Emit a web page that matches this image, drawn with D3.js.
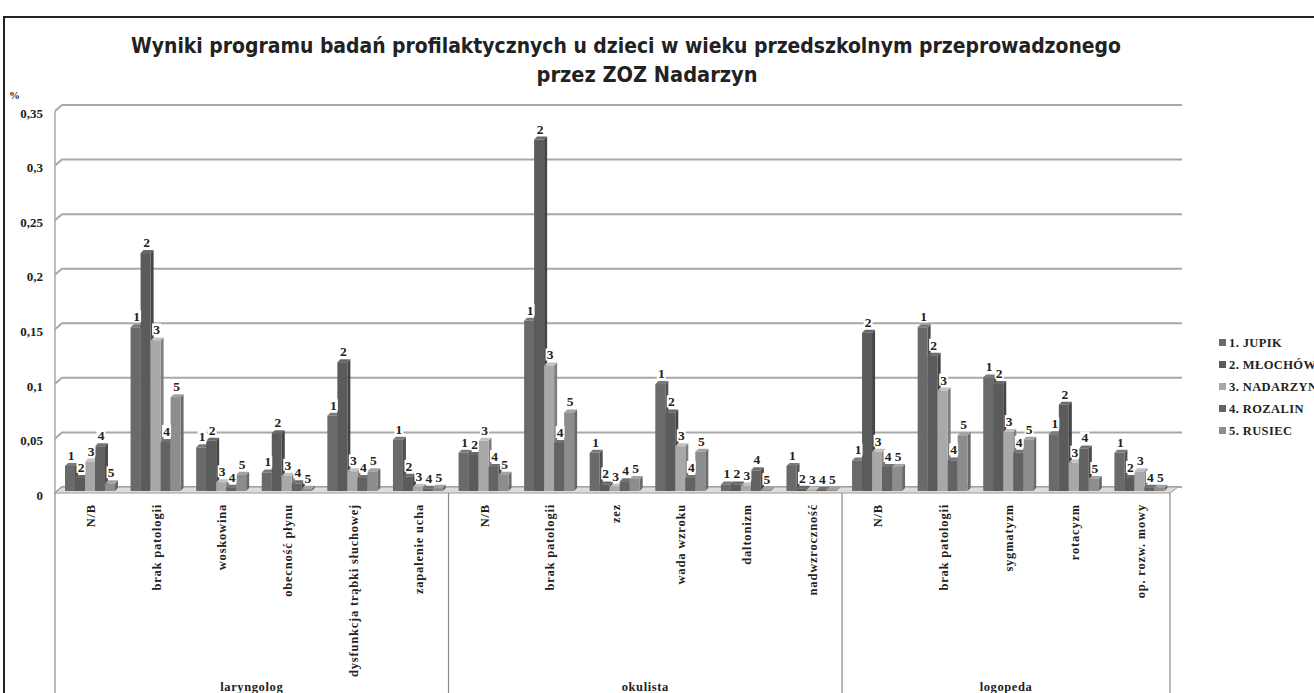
<!DOCTYPE html>
<html>
<head>
<meta charset="utf-8">
<script src="https://cdn.jsdelivr.net/npm/d3@7"></script>
<style>
  body { margin: 0; background: #fff; }
  svg { display: block; }
  .serif { font-family: "Liberation Serif", "DejaVu Serif", serif; font-weight: bold; fill: #222; }
</style>
</head>
<body>
<div id="chart"></div>
<script>
// categories along the x axis
var categories = ["N/B", "brak patologii", "woskowina", "obecność płynu", "dysfunkcja trąbki słuchowej", "zapalenie ucha",
  "N/B", "brak patologii", "zez", "wada wzroku", "daltonizm", "nadwzroczność",
  "N/B", "brak patologii", "sygmatyzm", "rotacyzm", "op. rozw. mowy"];
var groupNames = ["laryngolog", "okulista", "logopeda"];
var groupSizes = [6, 6, 5];

var seriesNames = ["1. JUPIK", "2. MŁOCHÓW", "3. NADARZYN", "4. ROZALIN", "5. RUSIEC"];
var seriesShort = ["1", "2", "3", "4", "5"];

// values
var jupik    = [0.023, 0.150, 0.040, 0.017, 0.069, 0.047, 0.035, 0.156, 0.035, 0.098, 0.006, 0.023, 0.028, 0.150, 0.104, 0.052, 0.035];
var mlochow  = [0.012, 0.218, 0.046, 0.053, 0.118, 0.013, 0.033, 0.322, 0.006, 0.072, 0.006, 0.002, 0.145, 0.124, 0.098, 0.079, 0.012];
var nadarzyn = [0.027, 0.138, 0.008, 0.014, 0.018, 0.004, 0.046, 0.115, 0.004, 0.041, 0.005, 0.001, 0.036, 0.092, 0.054, 0.026, 0.018];
var rozalin  = [0.041, 0.045, 0.003, 0.007, 0.012, 0.002, 0.022, 0.044, 0.009, 0.012, 0.019, 0.001, 0.022, 0.028, 0.035, 0.039, 0.003];
var rusiec   = [0.007, 0.086, 0.015, 0.002, 0.018, 0.003, 0.015, 0.072, 0.011, 0.036, 0.001, 0.001, 0.022, 0.051, 0.047, 0.011, 0.003];

var yTicks = [0, 0.05, 0.1, 0.15, 0.2, 0.25, 0.3, 0.35];

var allSeries = [jupik, mlochow, nadarzyn, rozalin, rusiec];
var colors = ["#6a6a6a", "#5b5b5b", "#a8a8a8", "#636363", "#8d8d8d"];

var W = 1314, H = 693;
var svg = d3.select("#chart").append("svg")
  .attr("width", W).attr("height", H);

// frame of the scanned chart
svg.append("path")
  .attr("d", "M4," + (H + 5) + " L4,17 L" + (W + 5) + ",17")
  .attr("fill", "none").attr("stroke", "#222").attr("stroke-width", 2);

// title
var titleFont = '"Liberation Sans Narrow", "DejaVu Sans Condensed", "Open Sans", sans-serif';
svg.append("text")
  .attr("x", 626).attr("y", 53)
  .attr("text-anchor", "middle")
  .attr("font-family", titleFont)
  .attr("font-size", 22).attr("font-weight", "bold")
  .attr("fill", "#222")
  .attr("textLength", 990).attr("lengthAdjust", "spacingAndGlyphs")
  .text("Wyniki programu badań profilaktycznych u dzieci w wieku przedszkolnym przeprowadzonego");
svg.append("text")
  .attr("x", 647).attr("y", 82)
  .attr("text-anchor", "middle")
  .attr("font-family", titleFont)
  .attr("font-size", 22).attr("font-weight", "bold")
  .attr("fill", "#222")
  .attr("textLength", 221).attr("lengthAdjust", "spacingAndGlyphs")
  .text("przez ZOZ Nadarzyn");

svg.append("text").attr("class", "serif")
  .attr("x", 9).attr("y", 99).attr("font-size", 11)
  .text("%");

// scales
var x0 = d3.scaleBand().domain(d3.range(categories.length)).range([55, 1170]).padding(0);
var y = d3.scaleLinear().domain([0, 0.35]).range([491, 109]);
var dx = 7, dy = -6;   // depth of the 3D wall / floor
var bx = 3, by = -3;   // depth of the bars

// gridlines on the back wall
var grid = svg.append("g");
yTicks.forEach(function(t) {
  grid.append("path")
    .attr("d", "M55," + (y(t) + 2) + " L" + (55 + dx) + "," + (y(t) + 2 + dy) + " L" + (1170 + dx + 5) + "," + (y(t) + 2 + dy))
    .attr("fill", "none").attr("stroke", "#a8a8a8").attr("stroke-width", 2);
});
grid.append("line")
  .attr("x1", 55).attr("x2", 55).attr("y1", y(0.35) + 2).attr("y2", 493)
  .attr("stroke", "#a8a8a8").attr("stroke-width", 1.5);

// floor
svg.append("path")
  .attr("d", "M55,493 L1170,493 L" + (1170 + dx + 1) + "," + (493 + dy) + " L" + (55 + dx) + "," + (493 + dy) + " Z")
  .attr("fill", "#dcdcdc").attr("stroke", "#9a9a9a").attr("stroke-width", 1);

// y axis labels
var fmt = d3.formatLocale({decimal: ",", thousands: " ", grouping: [3], currency: ["", ""]}).format("~g");
var yAxis = d3.axisLeft(y).tickValues(yTicks).tickSize(0).tickPadding(0).tickFormat(function(d) { return d === 0 ? "0" : fmt(d); });
var yg = svg.append("g").attr("transform", "translate(43,4)").call(yAxis);
yg.select(".domain").remove();
yg.selectAll("text").attr("class", "serif").attr("font-size", 13).attr("fill", "#222");

// bars
var x1 = d3.scaleBand().domain(d3.range(5)).range([10, 60]).padding(0);
var bw = x1.bandwidth();

function shade(c, k) { return d3.color(c).darker(k).formatHex(); }

var barLayer = svg.append("g");
var labelLayer = svg.append("g");
categories.forEach(function(cat, ci) {
  var gx = x0(ci);
  allSeries.forEach(function(vals, si) {
    var v = vals[ci];
    var left = gx + x1(si), top = y(v), base = y(0);
    var g = barLayer.append("g");
    // side face
    g.append("path")
      .attr("d", "M" + (left + bw) + "," + base + " L" + (left + bw + bx) + "," + (base + by) +
        " L" + (left + bw + bx) + "," + (top + by) + " L" + (left + bw) + "," + top + " Z")
      .attr("fill", shade(colors[si], 0.8));
    // top face
    g.append("path")
      .attr("d", "M" + left + "," + top + " L" + (left + bx) + "," + (top + by) +
        " L" + (left + bw + bx) + "," + (top + by) + " L" + (left + bw) + "," + top + " Z")
      .attr("fill", shade(colors[si], -0.4));
    // front face
    g.append("rect")
      .attr("x", left).attr("y", top)
      .attr("width", bw).attr("height", base - top)
      .attr("fill", colors[si]);

    // number label with white box
    var lx = left + bw / 2 + 1, ly = top + by - 3;
    labelLayer.append("rect")
      .attr("x", lx - 4.5).attr("y", ly - 11).attr("width", 9).attr("height", 12)
      .attr("fill", "#fff");
    labelLayer.append("text").attr("class", "serif")
      .attr("x", lx).attr("y", ly)
      .attr("text-anchor", "middle").attr("font-size", 13.5)
      .text(seriesShort[si]);
  });
});

// category axis: group separators
var bounds = [0];
groupSizes.forEach(function(n, i) { bounds.push(bounds[i] + n); });
bounds.forEach(function(b) {
  var xx = b < categories.length ? x0(b) : x0.range()[1];
  svg.append("line")
    .attr("x1", xx).attr("x2", xx).attr("y1", 493).attr("y2", H)
    .attr("stroke", "#8a8a8a").attr("stroke-width", 1.2);
});

// rotated category labels
categories.forEach(function(cat, ci) {
  var cx = x0(ci) + x0.bandwidth() / 2 + 3;
  svg.append("text").attr("class", "serif")
    .attr("transform", "translate(" + cx + ",504) rotate(-90)")
    .attr("text-anchor", "end").attr("dy", "0.35em")
    .attr("font-size", 12.5).attr("letter-spacing", 0.8)
    .text(cat);
});

// group labels
groupNames.forEach(function(name, gi) {
  var a = x0(bounds[gi]);
  var b = bounds[gi + 1] < categories.length ? x0(bounds[gi + 1]) : x0.range()[1];
  svg.append("text").attr("class", "serif")
    .attr("x", (a + b) / 2).attr("y", 691)
    .attr("text-anchor", "middle").attr("font-size", 12.5).attr("letter-spacing", 0.6)
    .text(name);
});

// legend
var legend = svg.append("g").attr("transform", "translate(1219,343)");
seriesNames.forEach(function(name, si) {
  var row = legend.append("g").attr("transform", "translate(0," + (si * 22) + ")");
  row.append("rect").attr("x", 0).attr("y", -4).attr("width", 7).attr("height", 7).attr("fill", colors[si]);
  row.append("text").attr("class", "serif")
    .attr("x", 10).attr("y", 0).attr("dy", "0.35em")
    .attr("font-size", 12.5).attr("letter-spacing", 0.4)
    .text(name);
});
</script>
</body>
</html>
